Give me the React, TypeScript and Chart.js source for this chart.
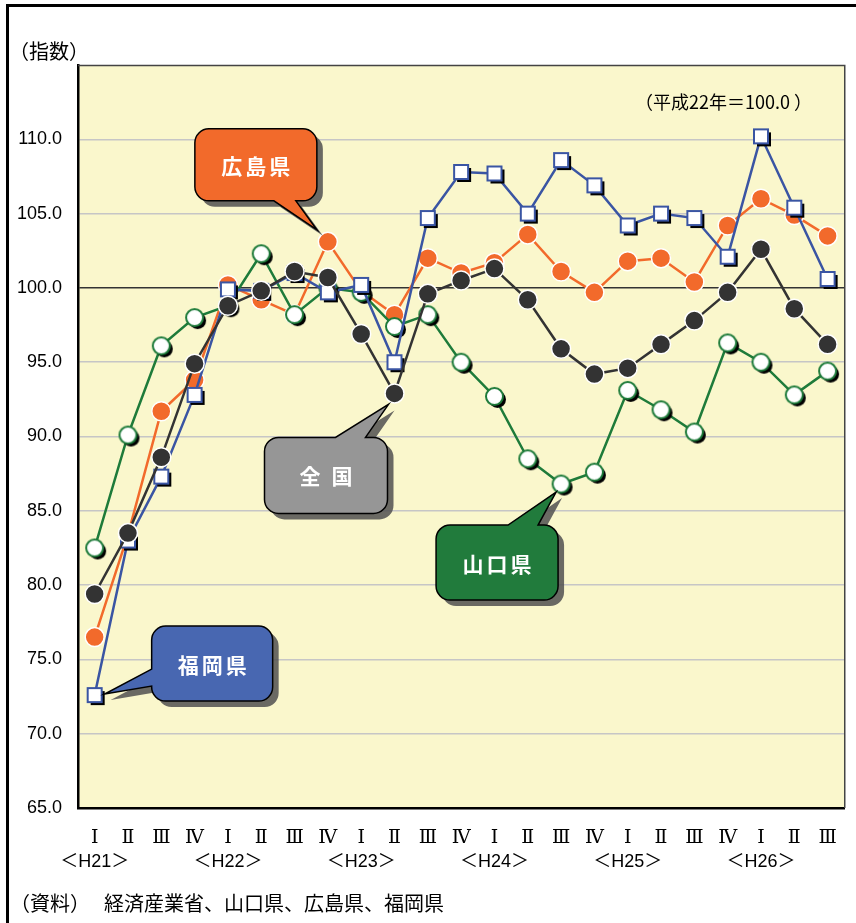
import React, { useEffect, useRef } from 'react';
import { Chart, registerables } from 'chart.js';

Chart.register(...registerables);

// ---------- data ----------
const quarterLabels = [
  'Ⅰ', 'Ⅱ', 'Ⅲ', 'Ⅳ',
  'Ⅰ', 'Ⅱ', 'Ⅲ', 'Ⅳ',
  'Ⅰ', 'Ⅱ', 'Ⅲ', 'Ⅳ',
  'Ⅰ', 'Ⅱ', 'Ⅲ', 'Ⅳ',
  'Ⅰ', 'Ⅱ', 'Ⅲ', 'Ⅳ',
  'Ⅰ', 'Ⅱ', 'Ⅲ',
];
const yearLabels = [
  '＜H21＞', '', '', '',
  '＜H22＞', '', '', '',
  '＜H23＞', '', '', '',
  '＜H24＞', '', '', '',
  '＜H25＞', '', '', '',
  '＜H26＞', '', '',
];
const zenkoku = [79.4, 83.5, 88.6, 94.9, 98.8, 99.8, 101.1, 100.7, 96.9, 92.9, 99.6, 100.5, 101.3, 99.2, 95.9, 94.2, 94.6, 96.2, 97.8, 99.7, 102.6, 98.6, 96.2];
const yamaguchi = [82.5, 90.1, 96.1, 98.0, 98.8, 102.3, 98.2, 100.0, 99.7, 97.4, 98.2, 95.0, 92.7, 88.5, 86.8, 87.6, 93.1, 91.8, 90.3, 96.3, 95.0, 92.8, 94.4];
const hiroshima = [76.5, 83.4, 91.7, 93.8, 100.2, 99.2, 98.2, 103.1, 99.8, 98.2, 102.0, 101.0, 101.7, 103.6, 101.1, 99.7, 101.8, 102.0, 100.4, 104.2, 106.0, 104.9, 103.5];
const fukuoka = [72.6, 83.0, 87.3, 92.8, 99.9, 99.8, 101.0, 99.7, 100.2, 95.0, 104.7, 107.8, 107.7, 105.0, 108.6, 106.9, 104.2, 105.0, 104.7, 102.1, 110.2, 105.4, 100.6];
const yMin = 65;
const yMax = 115;
const yStep = 5;
const yTitle = '（指数）';
const baseNote = '（平成22年＝100.0 ）';
const sourceHead = '（資料）';
const sourceBody = '経済産業省、山口県、広島県、福岡県';

// ---------- styles ----------
const PLOT_BG = '#FAF7CC';
const C_BLUE = '#3A55A3';
const C_ORANGE = '#F26A2B';
const C_BLACK = '#333333';
const C_GREEN = '#1E7B3A';
const JP = '"Noto Sans CJK JP", "Liberation Sans", sans-serif';
const SANS = '"Liberation Sans", "Noto Sans CJK JP", sans-serif';

function makeMarker(kind: 'square' | 'circle', half: number, stroke: string, lw: number) {
  const pad = 5;
  const S = Math.ceil(2 * (half + pad));
  const cv = document.createElement('canvas');
  cv.width = S;
  cv.height = S;
  const c = cv.getContext('2d')!;
  const cx = S / 2;
  const cy = S / 2;
  const path = (ox: number, oy: number) => {
    c.beginPath();
    if (kind === 'square') c.rect(cx - half + ox, cy - half + oy, half * 2, half * 2);
    else c.arc(cx + ox, cy + oy, half, 0, Math.PI * 2);
  };
  path(3, 3);
  c.fillStyle = '#000';
  c.fill();
  path(0, 0);
  c.fillStyle = '#fff';
  c.fill();
  c.lineWidth = lw;
  c.strokeStyle = stroke;
  c.stroke();
  return cv;
}

type Tail = { edge: 'top' | 'bottom' | 'left'; a: number; b: number; tip: [number, number] };
const callouts: { text: string; ds: number; index: number; color: string; box: [number, number, number, number]; tail: Tail }[] = [
  { text: '広島県', ds: 3, index: 7, color: '#F26A2B', box: [-133, -113, 122, 72], tail: { edge: 'bottom', a: -54, b: -32, tip: [-11, -12] } },
  { text: '全 国', ds: 0, index: 9, color: '#969696', box: [-130, 44, 123, 76], tail: { edge: 'top', a: -59, b: -29, tip: [-6, 11] } },
  { text: '山口県', ds: 2, index: 14, color: '#217B3C', box: [-125, 41, 122, 75], tail: { edge: 'top', a: -53, b: -23, tip: [-5, 8] } },
  { text: '福岡県', ds: 1, index: 0, color: '#4867B1', box: [57, -69, 121, 75], tail: { edge: 'left', a: -26, b: -9, tip: [10, -1] } },
];

function calloutPath(ctx: CanvasRenderingContext2D, px: number, py: number, co: typeof callouts[number], ox: number, oy: number) {
  const [bx, by, w, h] = co.box;
  const x = px + bx + ox;
  const y = py + by + oy;
  const r = 14;
  const t = co.tail;
  const tx = px + t.tip[0] + ox;
  const ty = py + t.tip[1] + oy;
  ctx.beginPath();
  ctx.moveTo(x + r, y);
  if (t.edge === 'top') {
    ctx.lineTo(px + t.a + ox, y);
    ctx.lineTo(tx, ty);
    ctx.lineTo(px + t.b + ox, y);
  }
  ctx.lineTo(x + w - r, y);
  ctx.arcTo(x + w, y, x + w, y + r, r);
  ctx.lineTo(x + w, y + h - r);
  ctx.arcTo(x + w, y + h, x + w - r, y + h, r);
  if (t.edge === 'bottom') {
    ctx.lineTo(px + t.b + ox, y + h);
    ctx.lineTo(tx, ty);
    ctx.lineTo(px + t.a + ox, y + h);
  }
  ctx.lineTo(x + r, y + h);
  ctx.arcTo(x, y + h, x, y + h - r, r);
  if (t.edge === 'left') {
    ctx.lineTo(x, py + t.b + oy);
    ctx.lineTo(tx, ty);
    ctx.lineTo(x, py + t.a + oy);
  }
  ctx.lineTo(x, y + r);
  ctx.arcTo(x, y, x + r, y, r);
  ctx.closePath();
}

const decorPlugin = {
  id: 'decor',
  beforeDraw(chart: any) {
    const { ctx, chartArea: a } = chart;
    ctx.save();
    ctx.fillStyle = '#ffffff';
    ctx.fillRect(0, 0, chart.width, chart.height);
    ctx.fillStyle = PLOT_BG;
    ctx.fillRect(a.left, a.top, a.right - a.left, a.bottom - a.top);
    ctx.strokeStyle = '#000';
    ctx.lineWidth = 3;
    ctx.strokeRect(7.5, 5.5, chart.width + 40, chart.height + 40);
    ctx.restore();
  },
  afterDatasetsDraw(chart: any) {
    const { ctx } = chart;
    const xs = chart.scales.x;
    const ys = chart.scales.y;
    ctx.save();
    for (const co of callouts) {
      const v = chart.data.datasets[co.ds].data[co.index];
      const px = xs.getPixelForValue(co.index);
      const py = ys.getPixelForValue(v);
      calloutPath(ctx, px, py, co, 6, 6);
      ctx.fillStyle = 'rgba(80,80,80,0.85)';
      ctx.fill();
      calloutPath(ctx, px, py, co, 0, 0);
      ctx.fillStyle = co.color;
      ctx.fill();
      ctx.strokeStyle = '#000';
      ctx.lineWidth = 1.5;
      ctx.stroke();
      const [bx, by, w, h] = co.box;
      ctx.fillStyle = '#fff';
      ctx.font = 'bold 21px ' + JP;
      ctx.textAlign = 'center';
      ctx.textBaseline = 'middle';
      (ctx as any).letterSpacing = '3px';
      ctx.fillText(co.text, px + bx + w / 2 + 1.5, py + by + h / 2 + 1);
      (ctx as any).letterSpacing = '0px';
    }
    ctx.restore();
  },
  afterDraw(chart: any) {
    const { ctx, chartArea: a } = chart;
    const xs = chart.scales.x;
    ctx.save();
    ctx.strokeStyle = '#444';
    ctx.lineWidth = 1.5;
    ctx.beginPath();
    ctx.moveTo(a.left, a.top + 0.5);
    ctx.lineTo(a.right + 0.5, a.top + 0.5);
    ctx.lineTo(a.right + 0.5, a.bottom);
    ctx.stroke();
    ctx.fillStyle = '#000';
    ctx.textBaseline = 'middle';
    ctx.textAlign = 'left';
    ctx.font = '20px ' + JP;
    ctx.fillText(yTitle, 9, 51);
    ctx.textAlign = 'right';
    ctx.font = '18px ' + JP;
    ctx.fillText(baseNote, 812, 102);
    ctx.textAlign = 'left';
    ctx.font = '20px ' + JP;
    ctx.fillText(sourceHead, 10, 903);
    ctx.fillText(sourceBody, 104, 903);
    ctx.textAlign = 'center';
    ctx.font = '18px ' + SANS;
    yearLabels.forEach((lab, i) => {
      if (!lab) return;
      ctx.fillText(lab, xs.getPixelForValue(i), 862);
    });
    ctx.restore();
  },
};

export default function App() {
  const ref = useRef<HTMLCanvasElement | null>(null);
  useEffect(() => {
    document.body.style.margin = '0';
    const canvas = ref.current!;
    const sq = makeMarker('square', 7, C_BLUE, 2);
    const gc = makeMarker('circle', 8.5, C_GREEN, 2);
    const chart = new Chart(canvas, {
      type: 'line',
      data: {
        labels: quarterLabels,
        datasets: [
          {
            label: '全国',
            data: zenkoku,
            borderColor: C_BLACK,
            backgroundColor: C_BLACK,
            borderWidth: 2.5,
            pointRadius: 9.5,
            pointBorderColor: '#ffffff',
            pointBorderWidth: 1.5,
            pointBackgroundColor: C_BLACK,
            order: 1,
          },
          {
            label: '福岡県',
            data: fukuoka,
            borderColor: C_BLUE,
            backgroundColor: C_BLUE,
            borderWidth: 2.5,
            pointStyle: sq as any,
            pointRadius: 8,
            order: 2,
          },
          {
            label: '山口県',
            data: yamaguchi,
            borderColor: C_GREEN,
            backgroundColor: C_GREEN,
            borderWidth: 2.5,
            pointStyle: gc as any,
            pointRadius: 9,
            order: 3,
          },
          {
            label: '広島県',
            data: hiroshima,
            borderColor: C_ORANGE,
            backgroundColor: C_ORANGE,
            borderWidth: 2.5,
            pointRadius: 9.5,
            pointBorderColor: '#ffffff',
            pointBorderWidth: 1.5,
            pointBackgroundColor: C_ORANGE,
            order: 4,
          },
        ],
      },
      options: {
        responsive: false,
        animation: false,
        devicePixelRatio: 1,
        layout: { padding: { top: 65, right: 10, left: 0, bottom: 0 } },
        plugins: { legend: { display: false }, tooltip: { enabled: false } },
        elements: { line: { tension: 0 } },
        scales: {
          x: {
            offset: true,
            grid: { display: false, drawTicks: false },
            border: { display: true, color: '#000', width: 2.5 },
            ticks: {
              autoSkip: false,
              maxRotation: 0,
              padding: 19,
              color: '#000',
              font: { family: '"Liberation Serif", "DejaVu Serif", serif', size: 19 },
            },
            afterFit(scale: any) {
              scale.height = 115;
            },
          },
          y: {
            min: yMin,
            max: yMax,
            grid: {
              drawTicks: false,
              lineWidth: 1.5,
              color: (c: any) => {
                const v = c.tick && c.tick.value;
                if (v === 100) return '#333333';
                if (v === yMin || v === yMax) return 'rgba(0,0,0,0)';
                return '#C6C6C6';
              },
            },
            border: { display: true, color: '#000', width: 2.5 },
            ticks: {
              stepSize: yStep,
              padding: 16,
              color: '#000',
              font: { family: SANS, size: 18 },
              callback: (v: any) => (Number(v) === yMax ? '' : Number(v).toFixed(1)),
            },
            afterFit(scale: any) {
              scale.width = 78;
            },
          },
        },
      },
      plugins: [decorPlugin],
    } as any);
    return () => chart.destroy();
  }, []);
  return (
    <div style={{ position: 'fixed', left: 0, top: 0, width: 856, height: 923 }}>
      <canvas ref={ref} width={856} height={923} />
    </div>
  );
}
